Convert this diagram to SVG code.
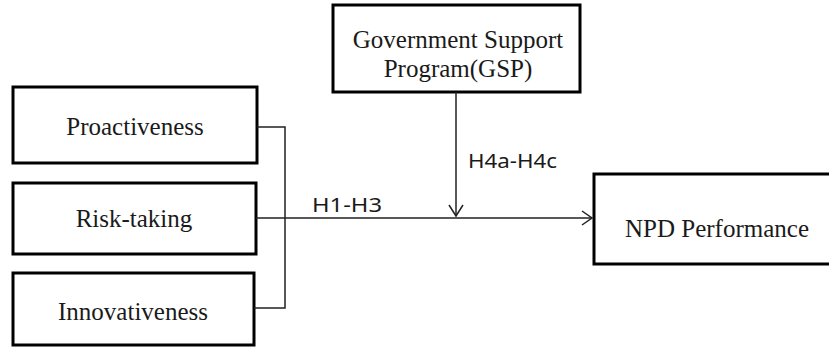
<svg xmlns="http://www.w3.org/2000/svg" width="829" height="347" viewBox="0 0 829 347">
<style>
.box{fill:#fff;stroke:#000;stroke-width:3}
.t{font-family:"Liberation Serif","Times New Roman",serif;font-size:25px;fill:#1a1a1a;text-anchor:middle}
.lbl{font-family:"Noto Sans","Liberation Sans",sans-serif;font-size:19px;fill:#1a1a1a}
.ln{fill:none;stroke:#222;stroke-width:1.5}
</style>
<rect width="829" height="347" fill="#fff"/>
<g id="gsp">
<rect class="box" x="333" y="5" width="247" height="87"/>
<text class="t" x="458" y="48">Government Support</text>
<text class="t" x="458" y="77">Program(GSP)</text>
</g>
<g id="proactiveness">
<rect class="box" x="13" y="87" width="244" height="76"/>
<text class="t" x="135" y="135">Proactiveness</text>
</g>
<g id="risk-taking">
<rect class="box" x="13" y="183" width="243" height="71"/>
<text class="t" x="134" y="227">Risk-taking</text>
</g>
<g id="innovativeness">
<rect class="box" x="13" y="273" width="241" height="72"/>
<text class="t" x="133" y="320">Innovativeness</text>
</g>
<g id="npd">
<rect class="box" x="594" y="174" width="260" height="90"/>
<text class="t" x="717" y="237">NPD Performance</text>
</g>
<g id="connectors">
<path class="ln" d="M257 127H285V308H254M256 218H592"/>
<path class="ln" d="M582 211L592 218L582 225"/>
<path class="ln" d="M456 92V216"/>
<path class="ln" d="M449 205L456 216L463 205"/>
<text class="lbl" x="468" y="168" textLength="89" lengthAdjust="spacingAndGlyphs">H4a-H4c</text>
<text class="lbl" x="312" y="212" textLength="70" lengthAdjust="spacingAndGlyphs">H1-H3</text>
</g>
</svg>
